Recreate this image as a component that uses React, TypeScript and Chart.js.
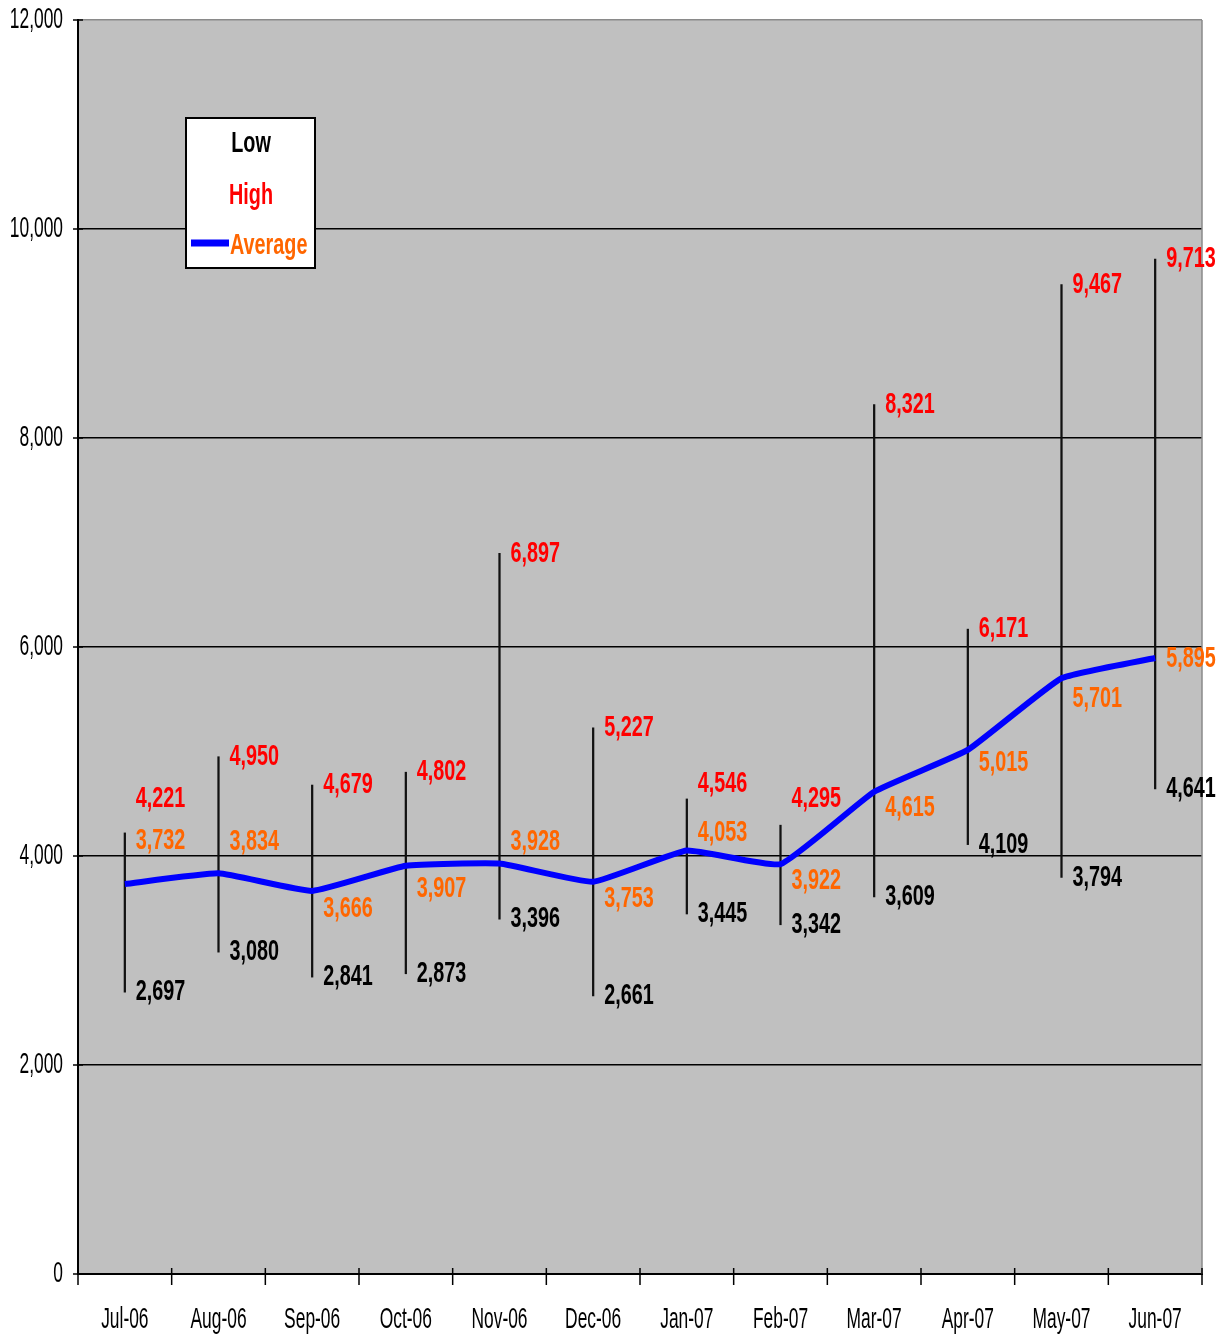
import React, { useEffect, useRef } from "react";
import { Chart, registerables } from "chart.js";

Chart.register(...registerables);

const months = ["Jul-06", "Aug-06", "Sep-06", "Oct-06", "Nov-06", "Dec-06", "Jan-07", "Feb-07", "Mar-07", "Apr-07", "May-07", "Jun-07"];
const lowValues = [2697, 3080, 2841, 2873, 3396, 2661, 3445, 3342, 3609, 4109, 3794, 4641];
const highValues = [4221, 4950, 4679, 4802, 6897, 5227, 4546, 4295, 8321, 6171, 9467, 9713];
const averageValues = [3732, 3834, 3666, 3907, 3928, 3753, 4053, 3922, 4615, 5015, 5701, 5895];
const yTickValues = [0, 2000, 4000, 6000, 8000, 10000, 12000];

// label nudges (pixels) to mimic the manually placed labels of the original
const highLabelNudge = [-34, 0, 0, 0, 0, 0, -15, -26, 0, 0, 0, 0];
const avgLabelNudge = [-43, -32, 18, 23, -22, 17, -18, 17, 16, 13, 20, 1];

const FONT_FAMILY = "'Liberation Sans', Arial, 'DejaVu Sans', sans-serif";
const ORANGE = "#FF6600";
const RED = "#FF0000";

function drawText(ctx: CanvasRenderingContext2D, text: string, x: number, y: number, font: string, color: string, sx: number, align: CanvasTextAlign) {
  ctx.save();
  ctx.translate(x, y);
  ctx.scale(sx, 1);
  ctx.font = font;
  ctx.fillStyle = color;
  ctx.textAlign = align;
  ctx.textBaseline = "middle";
  ctx.fillText(text, 0, 0);
  ctx.restore();
}

const fmt = (v: number) => v.toLocaleString("en-US");

const customPlugin = {
  id: "excelLook",
  beforeDraw(chart: any) {
    const { ctx, chartArea } = chart;
    ctx.save();
    ctx.fillStyle = "#C0C0C0";
    ctx.fillRect(chartArea.left, chartArea.top, chartArea.right - chartArea.left, chartArea.bottom - chartArea.top);
    ctx.restore();
  },
  afterDraw(chart: any) {
    const { ctx, chartArea } = chart;
    const xs = chart.scales.x;
    const ys = chart.scales.y;
    const boldFont = `bold 30px ${FONT_FAMILY}`;
    const regFont = `29px ${FONT_FAMILY}`;

    // right border
    ctx.save();
    ctx.strokeStyle = "#8a8a8a";
    ctx.lineWidth = 1.5;
    ctx.beginPath();
    ctx.moveTo(chartArea.right, chartArea.top);
    ctx.lineTo(chartArea.right, chartArea.bottom);
    ctx.stroke();

    // y tick marks + labels
    ctx.strokeStyle = "#000";
    ctx.lineWidth = 1.5;
    yTickValues.forEach((v) => {
      const y = ys.getPixelForValue(v);
      ctx.beginPath();
      ctx.moveTo(chartArea.left - 5, y);
      ctx.lineTo(chartArea.left + 5, y);
      ctx.stroke();
      drawText(ctx, fmt(v), chartArea.left - 15, y, regFont, "#000", 0.6, "right");
    });

    // x tick marks at category boundaries + labels
    const n = months.length;
    for (let i = 0; i <= n; i++) {
      const x = i < n ? xs.getPixelForValue(i) - (xs.getPixelForValue(1) - xs.getPixelForValue(0)) / 2 : chartArea.right;
      ctx.beginPath();
      ctx.moveTo(x, chartArea.bottom - 6);
      ctx.lineTo(x, chartArea.bottom + 11);
      ctx.stroke();
    }
    months.forEach((m, i) => {
      drawText(ctx, m, xs.getPixelForValue(i), chartArea.bottom + 46, regFont, "#000", 0.6, "center");
    });

    // data labels
    months.forEach((_, i) => {
      const x = xs.getPixelForValue(i) + 11;
      drawText(ctx, fmt(highValues[i]), x, ys.getPixelForValue(highValues[i]) + highLabelNudge[i], boldFont, RED, 0.66, "left");
      drawText(ctx, fmt(lowValues[i]), x, ys.getPixelForValue(lowValues[i]), boldFont, "#000", 0.66, "left");
      drawText(ctx, fmt(averageValues[i]), x, ys.getPixelForValue(averageValues[i]) + avgLabelNudge[i], boldFont, ORANGE, 0.66, "left");
    });

    // legend
    ctx.fillStyle = "#fff";
    ctx.fillRect(186, 118, 129, 150);
    ctx.strokeStyle = "#000";
    ctx.lineWidth = 2;
    ctx.strokeRect(186, 118, 129, 150);
    drawText(ctx, "Low", 251, 144, boldFont, "#000", 0.66, "center");
    drawText(ctx, "High", 251, 196, boldFont, RED, 0.66, "center");
    ctx.strokeStyle = "#0000FF";
    ctx.lineWidth = 7;
    ctx.beginPath();
    ctx.moveTo(191, 243);
    ctx.lineTo(229, 243);
    ctx.stroke();
    drawText(ctx, "Average", 230, 246, boldFont, ORANGE, 0.66, "left");
    ctx.restore();
  },
};

export default function App() {
  const canvasRef = useRef<HTMLCanvasElement | null>(null);

  useEffect(() => {
    document.body.style.margin = "0";
    const canvas = canvasRef.current;
    if (!canvas) return;
    const chart = new Chart(canvas, {
      type: "bar",
      data: {
        labels: months,
        datasets: [
          {
            type: "line",
            label: "Average",
            data: averageValues,
            borderColor: "#0000FF",
            backgroundColor: "#0000FF",
            borderWidth: 6,
            pointRadius: 0,
            tension: 0.12,
            order: 1,
          } as any,
          {
            type: "bar",
            label: "Range",
            data: lowValues.map((l, i) => [l, highValues[i]]),
            backgroundColor: "#111",
            barThickness: 1.6,
            order: 2,
          } as any,
        ],
      },
      options: {
        responsive: false,
        animation: false,
        layout: { padding: { left: 78, top: 20, right: 23, bottom: 62 } },
        plugins: { legend: { display: false }, tooltip: { enabled: false } },
        scales: {
          x: {
            type: "category",
            offset: true,
            ticks: { display: false },
            grid: { display: false, drawTicks: false },
            border: { display: true, color: "#000", width: 2 },
          },
          y: {
            min: 0,
            max: 12000,
            ticks: { display: false, stepSize: 2000 },
            grid: {
              drawTicks: false,
              color: (c: any) => (c.tick && c.tick.value === 12000 ? "#8a8a8a" : "#000"),
              lineWidth: 1.5,
            },
            border: { display: true, color: "#000", width: 2 },
          },
        },
      },
      plugins: [customPlugin],
    });
    return () => chart.destroy();
  }, []);

  return (
    <div style={{ position: "absolute", left: 0, top: 0 }}>
      <canvas ref={canvasRef} width={1225} height={1336} style={{ width: 1225, height: 1336, display: "block" }} />
    </div>
  );
}
